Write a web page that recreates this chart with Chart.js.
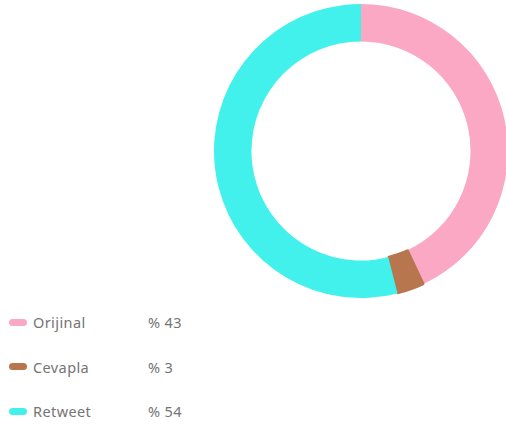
<!DOCTYPE html>
<html>
<head>
<meta charset="utf-8">
<script src="https://cdn.jsdelivr.net/npm/chart.js@4.4.1/dist/chart.umd.min.js"></script>
<style>
    html, body {
        margin: 0;
        padding: 0;
        width: 506px;
        height: 430px;
        overflow: hidden;
        background: #fff;
        font-family: "Noto Sans", sans-serif;
    }
    .donut-box {
        position: absolute;
        left: 213px;
        top: 3px;
        width: 296px;
        height: 296px;
    }
    .legend {
        position: absolute;
        left: 9px;
        top: 309px;
    }
    .legend-row {
        display: flex;
        align-items: center;
        height: 26px;
        margin-bottom: 18.5px;
        font-size: 14.5px;
        letter-spacing: 0.4px;
        color: #747474;
    }
    .legend-swatch {
        width: 18px;
        height: 7px;
        border-radius: 4px;
        margin-right: 6px;
    }
    .legend-name {
        width: 115px;
    }
</style>
</head>
<body>
<div class="donut-box"><canvas id="tweetChart"></canvas></div>
<div class="legend" id="tweetLegend"></div>

<script>
const labels = ["Orijinal", "Cevapla", "Retweet"];
const shares = [43, 3, 54];
const colors = ["#fba8c4", "#b8764f", "#43f1ec"];

// legend rows under the ring
const legendEl = document.getElementById("tweetLegend");
labels.forEach((name, i) => {
    const row = document.createElement("div");
    row.className = "legend-row";
    row.innerHTML = `
        <span class="legend-swatch" style="background:${colors[i]}"></span>
        <span class="legend-name">${name}</span>
        <span>% ${shares[i]}</span>
    `;
    legendEl.appendChild(row);
});

const ctx = document.getElementById("tweetChart").getContext("2d");
new Chart(ctx, {
    type: "doughnut",
    data: {
        labels: labels,
        datasets: [{
            data: shares,
            backgroundColor: colors,
            borderColor: colors,
            borderWidth: [0, 2, 0],
            hoverOffset: 0
        }]
    },
    options: {
        responsive: true,
        maintainAspectRatio: false,
        animation: false,
        cutout: "74.5%",
        layout: { padding: 0 },
        plugins: {
            legend: { display: false },
            tooltip: { enabled: true }
        }
    }
});
</script>
</body>
</html>
